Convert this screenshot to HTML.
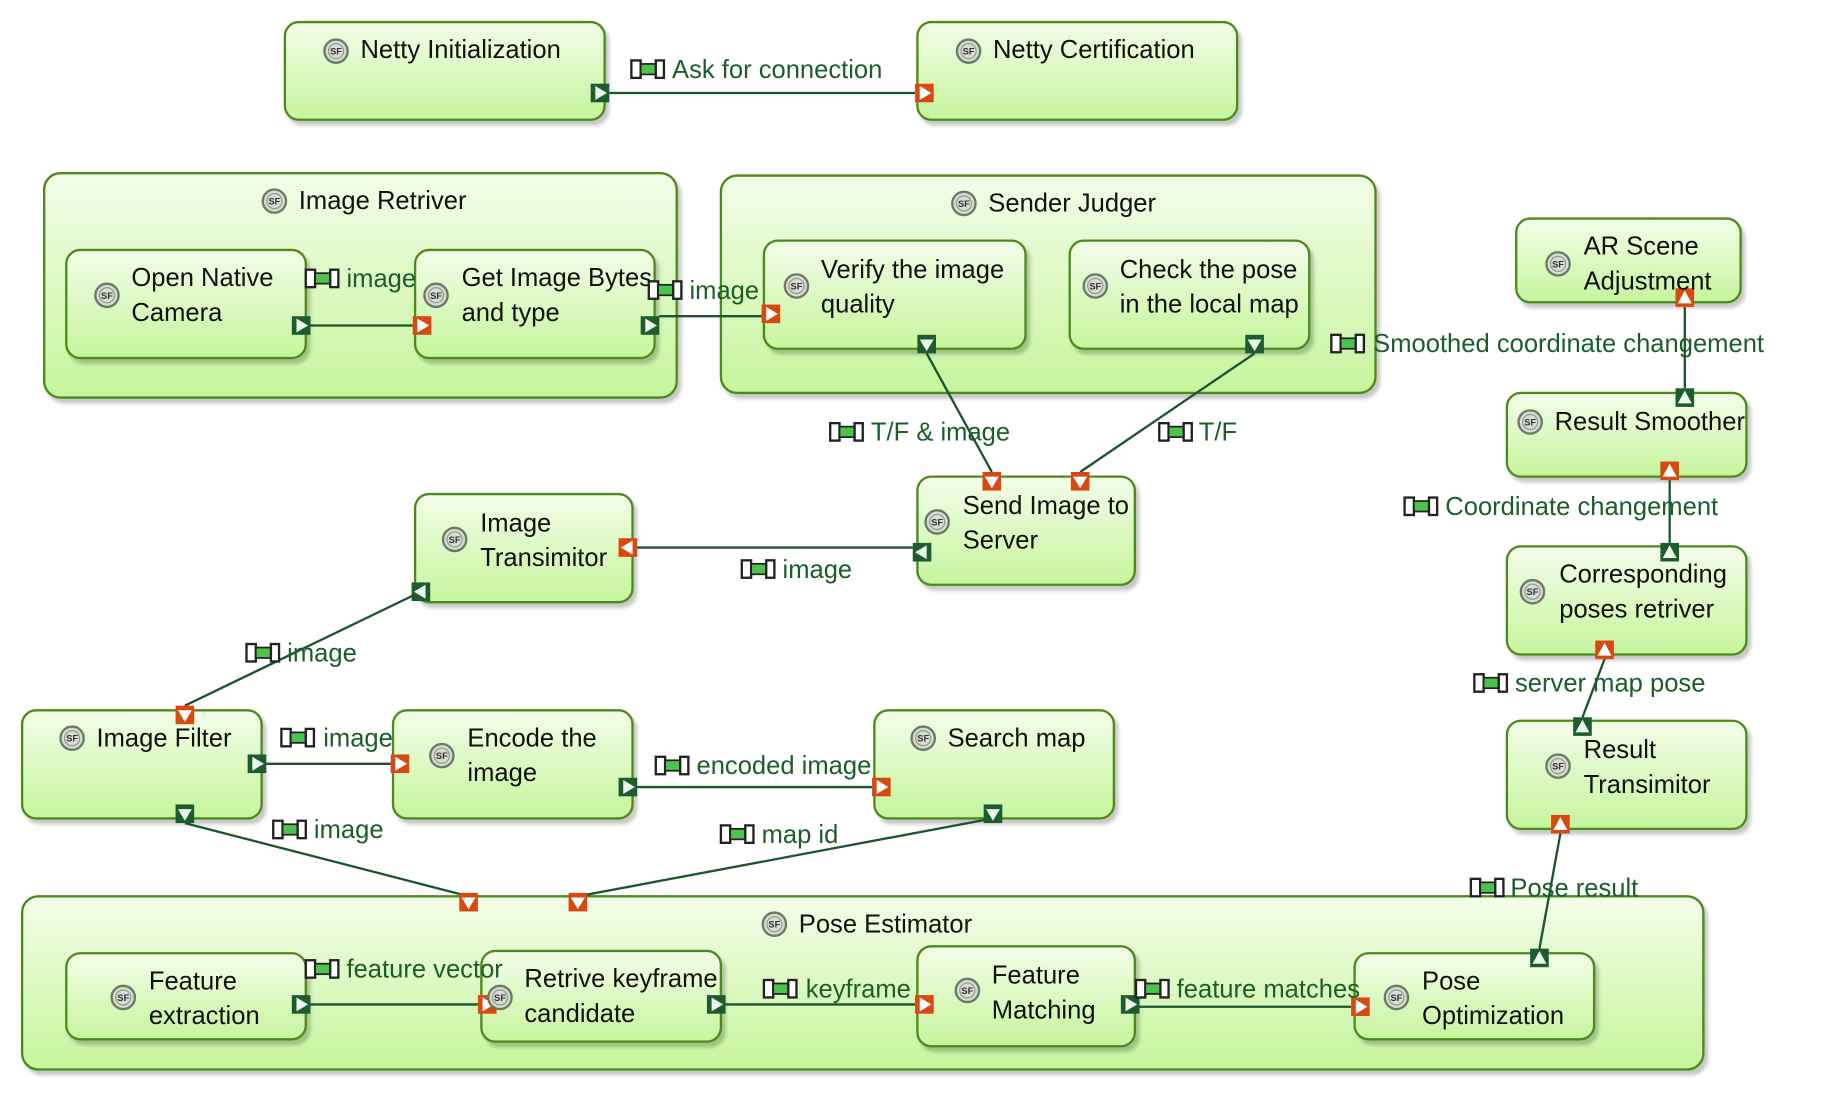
<!DOCTYPE html>
<html><head><meta charset="utf-8"><style>
html,body{margin:0;padding:0;background:#fff;}
svg{display:block;}
text{font-family:"Liberation Sans",sans-serif;}
.t{font-size:22px;fill:#111;}
.l{font-size:22px;fill:#1b5e2a;}
.sf{font-size:8px;fill:#333;font-weight:bold;}
.n{fill:url(#g);stroke:#4d8a1c;stroke-width:2;filter:url(#sh);}
.c{stroke:#1b5530;stroke-width:2;fill:none;}
</style></head><body>
<svg width="1822" height="1098" viewBox="0 0 1567 944.5" preserveAspectRatio="none" xmlns="http://www.w3.org/2000/svg">
<defs>
<linearGradient id="g" x1="0" y1="0" x2="0" y2="1"><stop offset="0" stop-color="#f3fde9"/><stop offset="1" stop-color="#c6f59c"/></linearGradient>
<filter id="sh" x="-5%" y="-5%" width="115%" height="125%"><feDropShadow dx="3" dy="4" stdDeviation="1.5" flood-color="#000" flood-opacity="0.22"/></filter>
<g id="gR"><rect x="-8" y="-8" width="16" height="16" fill="#1d5c2e"/><polygon points="-4,-6 6,0 -4,6" fill="#e8f5e8"/></g>
<g id="gL"><rect x="-8" y="-8" width="16" height="16" fill="#1d5c2e"/><polygon points="4,-6 -6,0 4,6" fill="#e8f5e8"/></g>
<g id="gD"><rect x="-8" y="-8" width="16" height="16" fill="#1d5c2e"/><polygon points="-6,-4 6,-4 0,6" fill="#e8f5e8"/></g>
<g id="gU"><rect x="-8" y="-8" width="16" height="16" fill="#1d5c2e"/><polygon points="-6,5 6,5 0,-6" fill="#e8f5e8"/></g>
<g id="oR"><rect x="-8" y="-8" width="16" height="16" fill="#d9480f"/><polygon points="-4,-6 6,0 -4,6" fill="#fff"/></g>
<g id="oL"><rect x="-8" y="-8" width="16" height="16" fill="#d9480f"/><polygon points="4,-6 -6,0 4,6" fill="#fff"/></g>
<g id="oD"><rect x="-8" y="-8" width="16" height="16" fill="#d9480f"/><polygon points="-6,-4 6,-4 0,6" fill="#fff"/></g>
<g id="oU"><rect x="-8" y="-8" width="16" height="16" fill="#d9480f"/><polygon points="-6,5 6,5 0,-6" fill="#fff"/></g>
<g id="lb"><rect x="0" y="-8" width="8" height="15" fill="#fff" stroke="#222" stroke-width="2"/><rect x="8" y="-5" width="13" height="9" fill="#4cc34c" stroke="#222" stroke-width="1.5"/><rect x="21" y="-8" width="7" height="15" fill="#fff" stroke="#222" stroke-width="2"/></g>
<g id="ic"><circle r="10" fill="#d8dcd4" stroke="#6a7a64" stroke-width="2"/><circle r="6.5" fill="none" stroke="#8a9a84" stroke-width="1"/></g>
</defs>

<rect class="n" x="38" y="149" width="544" height="193" rx="14"/>
<rect class="n" x="620" y="151" width="563" height="187" rx="14"/>
<rect class="n" x="19" y="771" width="1446" height="149" rx="14"/>

<rect class="n" x="245" y="19" width="275" height="84" rx="12"/>
<rect class="n" x="789" y="19" width="275" height="84" rx="12"/>
<rect class="n" x="57" y="215" width="206" height="93" rx="12"/>
<rect class="n" x="357" y="215" width="206" height="93" rx="12"/>
<rect class="n" x="657" y="207" width="225" height="93" rx="12"/>
<rect class="n" x="920" y="207" width="206" height="93" rx="12"/>
<rect class="n" x="789" y="410" width="187" height="93" rx="12"/>
<rect class="n" x="357" y="425" width="187" height="93" rx="12"/>
<rect class="n" x="19" y="611" width="206" height="93" rx="12"/>
<rect class="n" x="338" y="611" width="206" height="93" rx="12"/>
<rect class="n" x="752" y="611" width="206" height="93" rx="12"/>
<rect class="n" x="57" y="820" width="206" height="74" rx="12"/>
<rect class="n" x="414" y="818" width="206" height="78" rx="12"/>
<rect class="n" x="789" y="814" width="187" height="86" rx="12"/>
<rect class="n" x="1165" y="820" width="206" height="74" rx="12"/>
<rect class="n" x="1304" y="188" width="193" height="72" rx="12"/>
<rect class="n" x="1296" y="338" width="206" height="72" rx="12"/>
<rect class="n" x="1296" y="470" width="206" height="93" rx="12"/>
<rect class="n" x="1296" y="620" width="206" height="93" rx="12"/>

<path class="c" d="M524 80H787"/>
<path class="c" d="M267 280H355"/>
<path class="c" d="M567 272H655"/>
<path class="c" d="M797 304L853 406"/>
<path class="c" d="M1079 304L929 406"/>
<path class="c" d="M548 471H785"/>
<path class="c" d="M362 509L159 607"/>
<path class="c" d="M229 657H336"/>
<path class="c" d="M548 677H750"/>
<path class="c" d="M159 708L403 771"/>
<path class="c" d="M854 704L497 771"/>
<path class="c" d="M267 864H411"/>
<path class="c" d="M624 864H787"/>
<path class="c" d="M980 866H1162"/>
<path class="c" d="M1449 334V264"/>
<path class="c" d="M1436 413V467"/>
<path class="c" d="M1380 567L1361 617"/>
<path class="c" d="M1342 717L1324 816"/>

<use href="#gR" x="516" y="80"/><use href="#oR" x="795" y="80"/>
<use href="#gR" x="259" y="280"/><use href="#oR" x="363" y="280"/>
<use href="#gR" x="559" y="280"/><use href="#oR" x="663" y="270"/>
<use href="#gD" x="797" y="296"/><use href="#gD" x="1079" y="296"/>
<use href="#oD" x="853" y="414"/><use href="#oD" x="929" y="414"/>
<use href="#gL" x="793" y="475"/>
<use href="#oL" x="540" y="471"/><use href="#gL" x="362" y="509"/>
<use href="#oD" x="159" y="615"/><use href="#gR" x="221" y="657"/><use href="#gD" x="159" y="700"/>
<use href="#oR" x="344" y="657"/><use href="#gR" x="540" y="677"/>
<use href="#oR" x="758" y="677"/><use href="#gD" x="854" y="700"/>
<use href="#oD" x="403" y="776"/><use href="#oD" x="497" y="776"/>
<use href="#gR" x="259" y="864"/><use href="#oR" x="419" y="864"/><use href="#gR" x="616" y="864"/>
<use href="#oR" x="795" y="864"/><use href="#gR" x="972" y="864"/>
<use href="#oR" x="1170" y="866"/><use href="#gU" x="1324" y="824"/>
<use href="#oU" x="1449" y="256"/>
<use href="#gU" x="1449" y="342"/><use href="#oU" x="1436" y="405"/>
<use href="#gU" x="1436" y="475"/><use href="#oU" x="1380" y="559"/>
<use href="#gU" x="1361" y="625"/><use href="#oU" x="1342" y="709"/>

<g>
<use href="#ic" x="289" y="44"/><use href="#ic" x="833" y="44"/>
<use href="#ic" x="236" y="173"/><use href="#ic" x="829" y="175"/>
<use href="#ic" x="92" y="254"/><use href="#ic" x="375" y="254"/>
<use href="#ic" x="685" y="246"/><use href="#ic" x="942" y="246"/>
<use href="#ic" x="806" y="449"/><use href="#ic" x="391" y="464"/>
<use href="#ic" x="62" y="635"/><use href="#ic" x="380" y="650"/><use href="#ic" x="794" y="635"/>
<use href="#ic" x="666" y="795"/>
<use href="#ic" x="106" y="858"/><use href="#ic" x="430" y="858"/><use href="#ic" x="832" y="852"/><use href="#ic" x="1201" y="858"/>
<use href="#ic" x="1340" y="227"/><use href="#ic" x="1316" y="363"/><use href="#ic" x="1318" y="509"/><use href="#ic" x="1340" y="659"/>
</g>
<g class="sf" text-anchor="middle">
<text x="289" y="47" class="sf">SF</text><text x="833" y="47" class="sf">SF</text>
<text x="236" y="176" class="sf">SF</text><text x="829" y="178" class="sf">SF</text>
<text x="92" y="257" class="sf">SF</text><text x="375" y="257" class="sf">SF</text>
<text x="685" y="249" class="sf">SF</text><text x="942" y="249" class="sf">SF</text>
<text x="806" y="452" class="sf">SF</text><text x="391" y="467" class="sf">SF</text>
<text x="62" y="638" class="sf">SF</text><text x="380" y="653" class="sf">SF</text><text x="794" y="638" class="sf">SF</text>
<text x="666" y="798" class="sf">SF</text>
<text x="106" y="861" class="sf">SF</text><text x="430" y="861" class="sf">SF</text><text x="832" y="855" class="sf">SF</text><text x="1201" y="861" class="sf">SF</text>
<text x="1340" y="230" class="sf">SF</text><text x="1316" y="366" class="sf">SF</text><text x="1318" y="512" class="sf">SF</text><text x="1340" y="662" class="sf">SF</text>
</g>

<text class="t" x="310" y="50">Netty Initialization</text>
<text class="t" x="854" y="50">Netty Certification</text>
<text class="t" x="257" y="180">Image Retriver</text>
<text class="t" x="850" y="182">Sender Judger</text>
<text class="t" x="113" y="246">Open Native</text><text class="t" x="113" y="276">Camera</text>
<text class="t" x="397" y="246">Get Image Bytes</text><text class="t" x="397" y="276">and type</text>
<text class="t" x="706" y="239">Verify the image</text><text class="t" x="706" y="269">quality</text>
<text class="t" x="963" y="239">Check the pose</text><text class="t" x="963" y="269">in the local map</text>
<text class="t" x="828" y="442">Send Image to</text><text class="t" x="828" y="472">Server</text>
<text class="t" x="413" y="457">Image</text><text class="t" x="413" y="487">Transimitor</text>
<text class="t" x="83" y="642">Image Filter</text>
<text class="t" x="402" y="642">Encode the</text><text class="t" x="402" y="672">image</text>
<text class="t" x="815" y="642">Search map</text>
<text class="t" x="687" y="802">Pose Estimator</text>
<text class="t" x="128" y="851">Feature</text><text class="t" x="128" y="881">extraction</text>
<text class="t" x="451" y="849">Retrive keyframe</text><text class="t" x="451" y="879">candidate</text>
<text class="t" x="853" y="846">Feature</text><text class="t" x="853" y="876">Matching</text>
<text class="t" x="1223" y="851">Pose</text><text class="t" x="1223" y="881">Optimization</text>
<text class="t" x="1362" y="219">AR Scene</text><text class="t" x="1362" y="249">Adjustment</text>
<text class="t" x="1337" y="370">Result Smoother</text>
<text class="t" x="1341" y="501">Corresponding</text><text class="t" x="1341" y="531">poses retriver</text>
<text class="t" x="1362" y="652">Result</text><text class="t" x="1362" y="682">Transimitor</text>

<use href="#lb" x="543" y="60"/><text class="l" x="578" y="67">Ask for connection</text>
<use href="#lb" x="263" y="240"/><text class="l" x="298" y="247">image</text>
<use href="#lb" x="558" y="250"/><text class="l" x="593" y="257">image</text>
<use href="#lb" x="714" y="372"/><text class="l" x="749" y="379">T/F &amp; image</text>
<use href="#lb" x="997" y="372"/><text class="l" x="1031" y="379">T/F</text>
<use href="#lb" x="638" y="490"/><text class="l" x="673" y="497">image</text>
<use href="#lb" x="212" y="562"/><text class="l" x="247" y="569">image</text>
<use href="#lb" x="242" y="635"/><text class="l" x="278" y="642">image</text>
<use href="#lb" x="564" y="659"/><text class="l" x="599" y="666">encoded image</text>
<use href="#lb" x="235" y="714"/><text class="l" x="270" y="721">image</text>
<use href="#lb" x="620" y="718"/><text class="l" x="655" y="725">map id</text>
<use href="#lb" x="263" y="834"/><text class="l" x="298" y="841">feature vector</text>
<use href="#lb" x="657" y="851"/><text class="l" x="693" y="858">keyframe</text>
<use href="#lb" x="977" y="851"/><text class="l" x="1012" y="858">feature matches</text>
<use href="#lb" x="1145" y="296"/><text class="l" x="1181" y="303">Smoothed coordinate changement</text>
<use href="#lb" x="1208" y="436"/><text class="l" x="1243" y="443">Coordinate changement</text>
<use href="#lb" x="1268" y="588"/><text class="l" x="1303" y="595">server map pose</text>
<use href="#lb" x="1265" y="764"/><text class="l" x="1299" y="771">Pose result</text>
</svg>
</body></html>
